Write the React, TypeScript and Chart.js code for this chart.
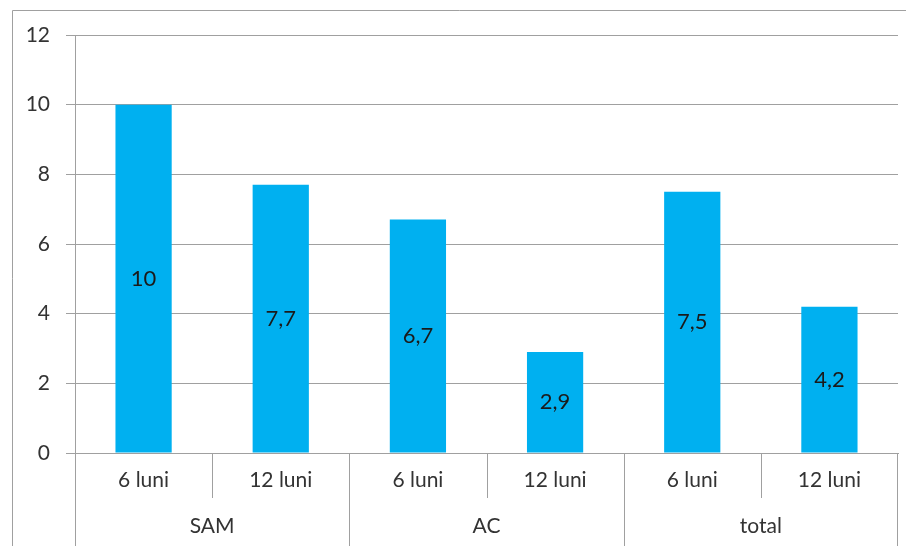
import React, { useEffect, useRef } from "react";
import { Chart, registerables } from "chart.js";

Chart.register(...registerables);

const categories = ["6 luni", "12 luni", "6 luni", "12 luni", "6 luni", "12 luni"];
const groups = ["SAM", "AC", "total"];
const groupSizes = [2, 2, 2];
const values = [10, 7.7, 6.7, 2.9, 7.5, 4.2];
const yTicks = [0, 2, 4, 6, 8, 10, 12];

const LINE = "#a0a0a0";
const TEXT = "#333333";
const FONT = "Lato";

const decorPlugin = {
  id: "decor",
  afterDraw(chart: any) {
    const ctx = chart.ctx;
    const x = chart.scales.x;
    const area = chart.chartArea;
    const bottom = chart.height;
    ctx.save();
    ctx.strokeStyle = LINE;
    ctx.lineWidth = 1;
    // outer frame (top and left)
    ctx.beginPath();
    ctx.moveTo(12.5, bottom);
    ctx.lineTo(12.5, 10.5);
    ctx.lineTo(chart.width, 10.5);
    ctx.stroke();

    const n = categories.length;
    const half = (x.getPixelForValue(1) - x.getPixelForValue(0)) / 2;
    const edge = (i: number) => Math.round(x.getPixelForValue(i) - half) + 0.5;
    // group boundaries
    let idx = 0;
    const boundaries: number[] = [0];
    groupSizes.forEach((s) => {
      idx += s;
      boundaries.push(idx);
    });
    ctx.beginPath();
    for (let i = 0; i <= n; i++) {
      const px = i === 0 ? area.left + 0.5 : i === n ? Math.round(area.right) - 0.5 : edge(i);
      const full = boundaries.includes(i);
      ctx.moveTo(px, area.bottom);
      ctx.lineTo(px, full ? bottom : area.bottom + 45);
    }
    ctx.stroke();

    // group labels
    ctx.fillStyle = TEXT;
    ctx.font = `21px ${FONT}`;
    ctx.textAlign = "center";
    ctx.textBaseline = "middle";
    groups.forEach((g, gi) => {
      const a = boundaries[gi];
      const b = boundaries[gi + 1];
      const left = a === 0 ? area.left : x.getPixelForValue(a) - half;
      const right = b === n ? area.right : x.getPixelForValue(b) - half;
      ctx.fillText(g, (left + right) / 2, area.bottom + 73);
    });
    ctx.restore();
  },
  afterDatasetsDraw(chart: any) {
    const ctx = chart.ctx;
    const meta = chart.getDatasetMeta(0);
    ctx.save();
    ctx.fillStyle = "#1a1a1a";
    ctx.font = `22px ${FONT}`;
    ctx.textAlign = "center";
    ctx.textBaseline = "middle";
    meta.data.forEach((bar: any, i: number) => {
      const v = values[i];
      const label = String(v).replace(".", ",");
      ctx.fillText(label, bar.x, (bar.y + bar.base) / 2);
    });
    ctx.restore();
  },
};

export default function App() {
  const ref = useRef<HTMLCanvasElement | null>(null);
  useEffect(() => {
    if (!ref.current) return;
    const chart = new Chart(ref.current, {
      type: "bar",
      data: {
        labels: categories,
        datasets: [
          {
            data: values,
            backgroundColor: "#00b0f0",
            borderWidth: 0,
            barPercentage: 0.41,
            categoryPercentage: 1,
          },
        ],
      },
      options: {
        responsive: false,
        animation: false,
        devicePixelRatio: 1,
        layout: { padding: { top: 35, right: 8, left: 0, bottom: 0 } },
        plugins: { legend: { display: false }, tooltip: { enabled: false } },
        scales: {
          x: {
            offset: true,
            grid: { display: true, color: "rgba(0,0,0,0)", drawTicks: false },
            border: { display: true, color: LINE, width: 1 },
            ticks: { color: TEXT, font: { family: FONT, size: 21 }, padding: 15, maxRotation: 0, autoSkip: false },
            afterFit: (s: any) => {
              s.height = 93;
            },
          },
          y: {
            min: 0,
            max: 12,
            afterBuildTicks: (s: any) => {
              s.ticks = yTicks.map((v) => ({ value: v }));
            },
            grid: { color: LINE, tickLength: 9, drawTicks: true },
            border: { display: true, color: LINE, width: 1 },
            ticks: { color: TEXT, font: { family: FONT, size: 21 }, padding: 16 },
            afterFit: (s: any) => {
              s.width = 75;
            },
          },
        },
      },
      plugins: [decorPlugin],
    });
    return () => chart.destroy();
  }, []);
  return (
    <div style={{ position: "fixed", left: 0, top: 0, width: 906, height: 546, background: "#fff" }}>
      <canvas ref={ref} width={906} height={546} style={{ display: "block" }} />
    </div>
  );
}
